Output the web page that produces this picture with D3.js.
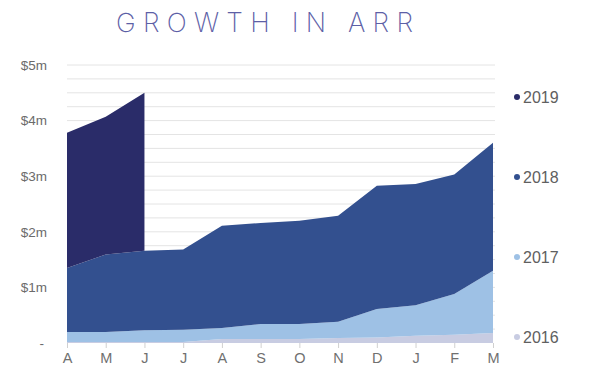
<!DOCTYPE html>
<html><head><meta charset="utf-8">
<script src="https://cdn.jsdelivr.net/npm/d3@7"></script>
<style>
body{margin:0;background:#fff;}
svg{display:block;font-family:"Helvetica Neue",Helvetica,"Liberation Sans",Arial,sans-serif;}
</style></head>
<body><svg id="c" width="607" height="380"></svg>
<script>
const months = ["A","M","J","J","A","S","O","N","D","J","F","M"];
const years = ["2016","2017","2018","2019"];
// ARR contribution per cohort year, $m (stacked)
const arr2016 = [0.02,0.02,0.02,0.02,0.07,0.07,0.07,0.09,0.10,0.13,0.15,0.18];
const arr2017 = [0.18,0.18,0.21,0.22,0.20,0.27,0.27,0.29,0.51,0.55,0.73,1.12];
const arr2018 = [1.15,1.39,1.43,1.44,1.84,1.82,1.86,1.91,2.22,2.18,2.15,2.30];
const arr2019 = [2.43,2.48,2.84,null,null,null,null,null,null,null,null,null];
const yTicks = [0,1,2,3,4,5];
const yTickLabels = ["-","$1m","$2m","$3m","$4m","$5m"];
const colors = {"2016":"#c8cce2","2017":"#9ec1e5","2018":"#33508f","2019":"#2a2c69"};

const svg = d3.select("#c");
const W=607,H=380;
const m={left:67,right:114,top:65,bottom:37};
const x = d3.scalePoint().domain(d3.range(months.length)).range([m.left, W-m.right]);
const y = d3.scaleLinear().domain([0,5]).range([H-m.bottom, m.top]);

// gridlines every 0.25m
const grid = d3.range(0.25,5.001,0.25);
svg.append("g").selectAll("line").data(grid).join("line")
  .attr("x1",m.left).attr("x2",W-m.right+2)
  .attr("y1",d=>y(d)).attr("y2",d=>y(d))
  .attr("stroke","#e4e4e4").attr("stroke-width",1);

const table = months.map((mo,i)=>({i, "2016":arr2016[i],"2017":arr2017[i],"2018":arr2018[i],"2019":arr2019[i]}));
const stack = d3.stack().keys(years).value((d,k)=>d[k]==null?0:d[k]);
const series = stack(table);
const area = d3.area()
  .defined(d=>d.data[d.key]!=null)
  .x(d=>x(d.data.i)).y0(d=>y(d[0])).y1(d=>y(d[1]));
series.forEach(s=>s.forEach(p=>p.key=s.key));
svg.append("g").selectAll("path").data(series).join("path")
  .attr("d",area).attr("fill",d=>colors[d.key]);

// x axis
const xa = svg.append("g").attr("transform",`translate(0,${y(0)})`)
  .call(d3.axisBottom(x).tickSize(5).tickPadding(5).tickFormat(i=>months[i]));
xa.select(".domain").remove();
xa.selectAll("line").attr("stroke","#d0d0d0");
xa.selectAll("text").attr("fill","#707070").attr("font-size",14.5).attr("font-family",null);

// y axis
const ya = svg.append("g").attr("transform",`translate(${m.left-20},0)`)
  .call(d3.axisLeft(y).tickValues(yTicks).tickSize(0).tickPadding(0).tickFormat((d,i)=>yTickLabels[i]));
ya.select(".domain").remove();
ya.selectAll("text").attr("fill","#6b6b6b").attr("font-size",13.5).attr("font-family",null)
  .attr("dx",d=>d===0?-3:0);

// legend
const lg = svg.append("g").selectAll("g").data(years).join("g")
  .attr("transform",(d,i)=>`translate(517,${337-i*80})`);
lg.append("circle").attr("r",3).attr("fill",d=>colors[d]);
lg.append("text").attr("x",6).attr("dy","0.36em").attr("font-size",16)
  .attr("fill","#606060").text(d=>d);

// title
svg.append("text").attr("x",116).attr("y",32)
  .attr("font-family","Inter, Lato, sans-serif")
  .attr("font-size",26.5).attr("font-weight",200).attr("fill","#5d60a6")
  .attr("textLength",297).attr("lengthAdjust","spacing")
  .text("GROWTH IN ARR");
</script></body></html>
